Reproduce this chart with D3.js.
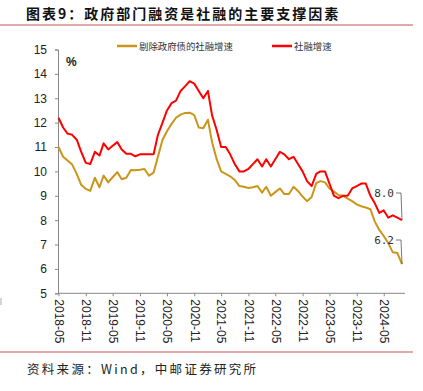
<!DOCTYPE html>
<html>
<head>
<meta charset="utf-8">
<script src="https://cdn.jsdelivr.net/npm/d3@7"></script>
<style>
  html, body { margin: 0; padding: 0; background: #fff; }
  svg { display: block; }
</style>
</head>
<body>
<svg id="chart" width="423" height="391"></svg>
<script>
// months 2018-05 .. 2024-09
const months = d3.timeMonth.range(new Date(2018, 4, 1), new Date(2024, 9, 1));

// 社融增速 (%)
const tsfGrowth = [
  12.2, 11.8, 11.55, 11.5, 11.3, 10.8, 10.35, 10.3, 10.8, 10.65,
  11.15, 10.9, 11.05, 11.2, 10.9, 10.72, 10.72, 10.62, 10.7, 10.7,
  10.7, 10.7, 11.5, 12.0, 12.5, 12.8, 12.9, 13.3, 13.5, 13.7,
  13.6, 13.3, 13.0, 13.3, 12.3, 11.7, 11.0,
  11.0, 10.7, 10.3, 10.0, 10.0, 10.1, 10.3, 10.5, 10.2, 10.5,
  10.2, 10.5, 10.8, 10.7, 10.5, 10.6, 10.3, 10.0, 9.6, 9.4,
  9.9, 10.0, 10.0, 9.5, 9.0, 8.9, 9.0, 9.0, 9.3, 9.4,
  9.5, 9.5, 9.0, 8.7, 8.3, 8.4, 8.1, 8.2, 8.1, 8.0
];

// 剔除政府债的社融增速 (%)
const tsfExGovGrowth = [
  11.0, 10.6, 10.45, 10.28, 9.9, 9.45, 9.28, 9.2, 9.74, 9.35,
  9.83, 9.55, 9.76, 9.97, 9.68, 9.74, 10.06, 10.05, 10.07, 10.1,
  9.82, 9.95, 10.6, 11.3, 11.65, 11.95, 12.2, 12.33, 12.4, 12.41,
  12.31, 11.8, 11.77, 12.12, 11.2, 10.5, 10.0,
  9.9, 9.8, 9.65, 9.4, 9.37, 9.32, 9.35, 9.4, 9.13, 9.37,
  9.0, 9.15, 9.3, 9.07, 9.07, 9.37, 9.2, 8.97, 8.78, 8.95,
  9.52, 9.6, 9.55, 9.3, 9.17, 9.03, 9.0, 8.88, 8.78, 8.65,
  8.57, 8.52, 8.45, 7.95, 7.6, 7.35, 7.05, 6.68, 6.65, 6.2
];

const yTicks = [5, 6, 7, 8, 9, 10, 11, 12, 13, 14, 15];
const seriesNames = ['剔除政府债的社融增速', '社融增速'];
const seriesColors = ['#c9961a', '#ff0000'];

const svg = d3.select('#chart');
const numFont = '"Liberation Sans Narrow", "Arial Narrow", "Liberation Sans", sans-serif';
const cjkFont = '"Noto Sans CJK SC", sans-serif';

// header / footer rules
svg.append('line').attr('x1', 0).attr('x2', 413).attr('y1', 25).attr('y2', 25)
  .attr('stroke', '#d98c8c').attr('stroke-width', 1.5);
svg.append('line').attr('x1', 0).attr('x2', 413).attr('y1', 352).attr('y2', 352)
  .attr('stroke', '#d98c8c').attr('stroke-width', 1.5);

svg.append('text')
  .attr('x', 26).attr('y', 19)
  .attr('font-family', cjkFont).attr('font-weight', 'bold')
  .attr('font-size', 14).attr('letter-spacing', 2)
  .attr('fill', '#111')
  .text('图表9：政府部门融资是社融的主要支撑因素');

svg.append('text')
  .attr('x', 27).attr('y', 374)
  .attr('font-family', cjkFont).attr('font-size', 12.5)
  .attr('letter-spacing', 2.3).attr('fill', '#222')
  .text('资料来源：Wind，中邮证券研究所');

// scales
const x = d3.scaleTime()
  .domain([months[0], months[months.length - 1]])
  .range([58.5, 402]);
const y = d3.scaleLinear().domain([5, 15]).range([293.3, 49.5]);

// y axis
const yAxis = svg.append('g')
  .attr('transform', 'translate(58,0)')
  .call(d3.axisLeft(y).tickValues(yTicks).tickSize(3).tickPadding(8));
yAxis.select('.domain').attr('stroke', '#888');
yAxis.selectAll('.tick line').attr('stroke', '#888');
yAxis.selectAll('text')
  .attr('font-family', numFont).attr('font-size', 12).attr('fill', '#222');

// x axis
const tickDates = months.filter((d, i) => i % 6 === 0);
const xAxis = svg.append('g')
  .attr('transform', 'translate(0,293.3)')
  .call(d3.axisBottom(x).tickValues(tickDates)
    .tickFormat(d3.timeFormat('%Y-%m')).tickSize(3));
xAxis.select('.domain').remove();
xAxis.append('line').attr('x1', 58).attr('x2', 405)
  .attr('stroke', '#888');
xAxis.selectAll('.tick line').attr('stroke', '#888');
xAxis.selectAll('text')
  .attr('font-family', numFont).attr('font-size', 12).attr('fill', '#222')
  .attr('text-anchor', 'start')
  .attr('transform', 'rotate(90)')
  .attr('x', 6).attr('y', 0).attr('dy', '0.35em');

// unit label
svg.append('text')
  .attr('x', 66).attr('y', 66)
  .attr('font-family', numFont).attr('font-size', 12).attr('font-weight', 'bold')
  .attr('fill', '#222').text('%');

// lines
const line = d3.line()
  .x((d, i) => x(months[i]))
  .y(d => y(d));

[tsfExGovGrowth, tsfGrowth].forEach((vals, k) => {
  svg.append('path')
    .datum(vals)
    .attr('fill', 'none')
    .attr('stroke', seriesColors[k])
    .attr('stroke-width', 2)
    .attr('stroke-linejoin', 'round')
    .attr('d', line);
});

// legend
const legendX = [117, 272];
seriesNames.forEach((name, k) => {
  svg.append('line')
    .attr('x1', legendX[k]).attr('x2', legendX[k] + 20)
    .attr('y1', 46).attr('y2', 46)
    .attr('stroke', seriesColors[k]).attr('stroke-width', 2.5);
  svg.append('text')
    .attr('x', legendX[k] + 22).attr('y', 50)
    .attr('font-family', cjkFont).attr('font-size', 9.4)
    .attr('fill', '#333')
    .text(name);
});

// end-value annotations
const last = months.length - 1;
const notes = [
  { v: tsfGrowth[last], ty: 193 },
  { v: tsfExGovGrowth[last], ty: 240 }
];
notes.forEach(n => {
  const ex = x(months[last]), ey = y(n.v);
  svg.append('polyline')
    .attr('points', `${ex - 6},${n.ty} ${ex - 1},${n.ty} ${ex},${ey}`)
    .attr('fill', 'none').attr('stroke', '#555').attr('stroke-width', 0.8);
  svg.append('text')
    .attr('x', ex - 8).attr('y', n.ty + 4)
    .attr('text-anchor', 'end')
    .attr('font-family', '"DejaVu Sans Mono", monospace')
    .attr('font-size', 11).attr('fill', '#333')
    .text(n.v.toFixed(1));
});

// small stray mark at left edge
svg.append('line').attr('x1', 1).attr('x2', 1).attr('y1', 298).attr('y2', 305)
  .attr('stroke', '#aaa');
</script>
</body>
</html>
